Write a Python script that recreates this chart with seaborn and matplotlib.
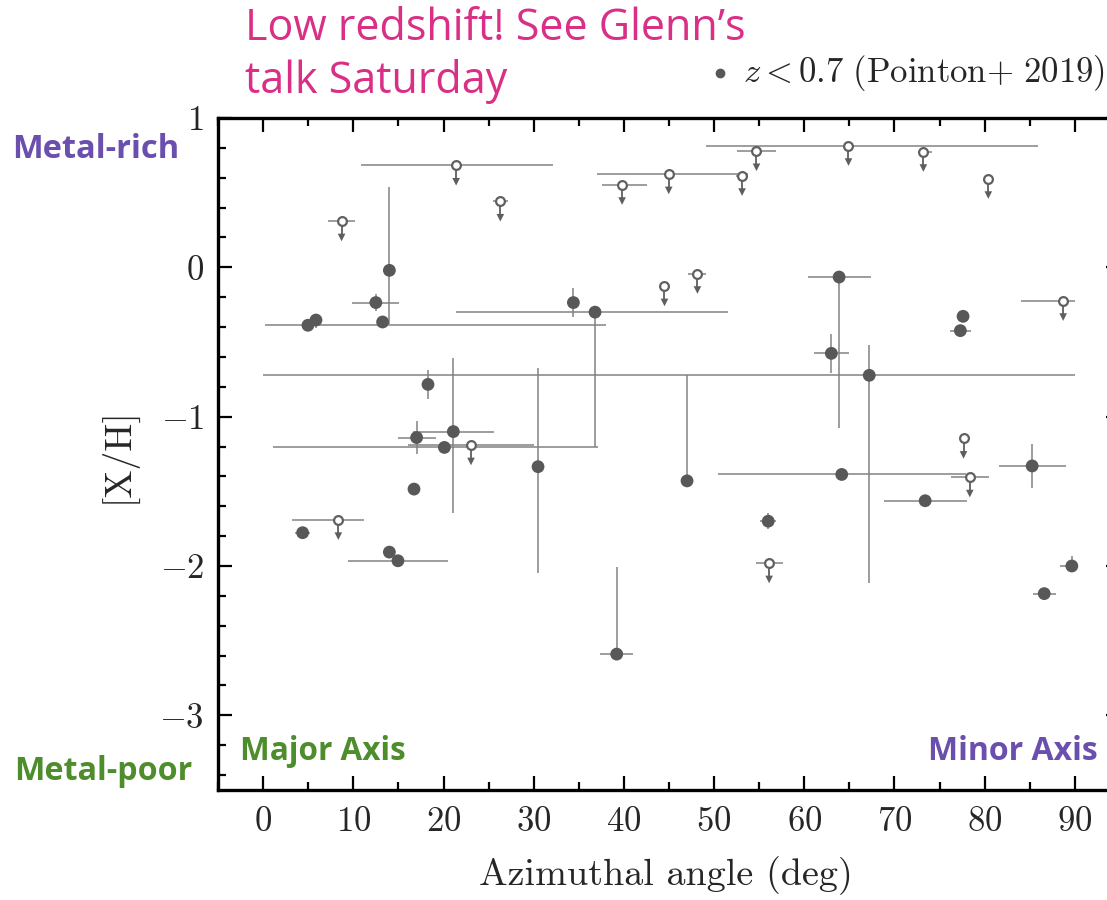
import numpy as np
import pandas as pd
import matplotlib
matplotlib.use("Agg")
import matplotlib.pyplot as plt
import seaborn as sns
from matplotlib.ticker import MultipleLocator
from matplotlib.lines import Line2D

# ---------------- data ----------------
# detections (filled)
det_az = [14.0, 12.5, 13.25, 4.97, 5.86, 18.28, 21.09, 17.02, 20.1, 36.8,
          34.4, 30.48, 47.0, 39.2, 56.0, 64.15, 73.4, 85.26, 89.66, 86.6,
          63.86, 63.0, 67.2, 77.6, 77.3, 4.38, 16.73, 14.0, 14.95]
det_met = [-0.02, -0.236, -0.366, -0.388, -0.353, -0.784, -1.10, -1.14, -1.206, -0.30,
           -0.236, -1.335, -1.43, -2.59, -1.70, -1.387, -1.563, -1.33, -2.0, -2.185,
           -0.065, -0.576, -0.723, -0.328, -0.424, -1.777, -1.485, -1.907, -1.965]
det_xlo = [0, 2.6, 0, 4.8, 0, 0, 4.5, 2.1, 19.0, 15.4,
           0, 0, 0, 1.8, 0.9, 13.75, 4.6, 3.7, 1.3, 1.3,
           3.5, 1.95, 67.2, 0, 1.2, 0.83, 0, 0, 5.5]
det_xhi = [0, 2.6, 0, 33.0, 0, 0, 4.5, 2.1, 17.0, 14.7,
           0, 0, 0, 1.8, 0.9, 13.75, 4.6, 3.7, 0, 1.3,
           3.5, 1.95, 22.8, 0, 1.2, 0.83, 0, 0, 5.5]
det_ylo = [0.36, 0.055, 0, 0, 0.05, 0.095, 0.545, 0.11, 0, 0.9,
           0.095, 0.71, 0, 0, 0.055, 0, 0, 0.15, 0, 0,
           1.01, 0.13, 1.39, 0, 0, 0, 0, 0, 0]
det_yhi = [0.56, 0.055, 0, 0, 0, 0.095, 0.49, 0.11, 0, 0,
           0.095, 0.66, 0.71, 0.58, 0.055, 0, 0, 0.15, 0.07, 0,
           0, 0.13, 0.2, 0.04, 0, 0, 0, 0, 0]

# upper limits (open)
lim_az = [8.7, 21.4, 26.3, 23.05, 8.34, 39.8, 44.97, 53.1, 54.7, 64.9,
          73.2, 80.4, 44.5, 48.15, 56.1, 78.35, 77.65, 88.7]
lim_met = [0.31, 0.683, 0.442, -1.19, -1.69, 0.554, 0.625, 0.614, 0.78, 0.815,
           0.775, 0.594, -0.125, -0.042, -1.98, -1.405, -1.146, -0.223]
lim_xlo = [1.45, 10.6, 0.85, 7.0, 5.1, 2.2, 8.0, 0.7, 2.2, 15.75,
           0, 0, 0, 1.0, 1.5, 2.1, 0, 4.7]
lim_xhi = [1.45, 10.7, 0.85, 7.0, 2.9, 2.8, 8.8, 0.7, 2.2, 21.0,
           1.0, 0, 0, 1.0, 1.5, 2.1, 0, 1.3]
arrow_len = 0.11

x_ticks = [0, 10, 20, 30, 40, 50, 60, 70, 80, 90]
y_ticks = [-3, -2, -1, 0, 1]

# ---------------- style ----------------
sns.set_style("ticks")
plt.rcParams["mathtext.fontset"] = "cm"
plt.rcParams["font.family"] = ["cmr10", "DejaVu Serif"]
plt.rcParams["axes.formatter.use_mathtext"] = True
plt.rcParams["axes.unicode_minus"] = True

W, H = 1107, 900
fig = plt.figure(figsize=(W / 100, H / 100), dpi=100)
ax = fig.add_axes([218 / W, 110 / H, 902 / W, 672 / H])

err_col = "#828282"
dot_col = "#585858"
arr_col = "#5e5e5e"

det = pd.DataFrame({"az": det_az, "met": det_met})
lim = pd.DataFrame({"az": lim_az, "met": lim_met})
lim["tip"] = lim["met"] - arrow_len

ax.errorbar(det["az"], det["met"],
            xerr=[det_xlo, det_xhi], yerr=[det_ylo, det_yhi],
            fmt="none", ecolor=err_col, elinewidth=1.1, capsize=0, zorder=1)
ax.errorbar(lim["az"], lim["met"], xerr=[lim_xlo, lim_xhi],
            fmt="none", ecolor=err_col, elinewidth=1.1, capsize=0, zorder=1)
# upper-limit arrows
ax.vlines(lim["az"], lim["tip"], lim["met"], color=arr_col, linewidth=1.3, zorder=2)
sns.scatterplot(data=lim, x="az", y="tip", ax=ax, marker="v", color=arr_col,
                s=30, edgecolor="none", zorder=2, legend=False)

sns.scatterplot(data=det, x="az", y="met", ax=ax, color=dot_col, s=85,
                edgecolor="none", zorder=4, legend=False)
sns.scatterplot(data=lim, x="az", y="met", ax=ax, color="white", s=40,
                edgecolor="#606060", linewidth=1.6, zorder=4, legend=False)

ax.set_xlim(-5, 95)
ax.set_ylim(-3.5, 1.0)
ax.set_xticks(x_ticks)
ax.set_yticks(y_ticks)
ax.xaxis.set_minor_locator(MultipleLocator(5))
ax.yaxis.set_minor_locator(MultipleLocator(0.2))
ax.tick_params(which="both", direction="in", top=True, right=True,
               labelsize=25, width=1.6, color="black")
ax.tick_params(which="major", length=10)
ax.tick_params(which="minor", length=6)
ax.tick_params(axis="x", pad=12)
ax.tick_params(axis="y", pad=10)
for s in ax.spines.values():
    s.set_linewidth(2.4)
    s.set_color("black")
ax.set_xlabel("")
ax.set_ylabel("")

fig.text(666 / W, 1 - 876 / H, "Azimuthal angle (deg)", fontsize=27.5,
         ha="center", va="center")
fig.text(118 / W, 1 - 455 / H, "[X/H]", fontsize=27, rotation=90,
         ha="center", va="center")

# legend-like entry above axes
fig.text(1105 / W, 1 - 73 / H, r"$z < 0.7\ \mathrm{(Pointon{+}\ 2019)}$",
         fontsize=25, ha="right", va="center")
fig.lines.append(Line2D([720 / W], [1 - 73 / H], marker="o", color=dot_col,
                        markersize=6, transform=fig.transFigure))

sans = ["Open Sans", "DejaVu Sans"]
pink = "#d92f86"
purple = "#6a4fae"
green = "#4e8d2c"
fig.text(245 / W, 1 - 29 / H, "Low redshift! See Glenn\u2019s",
         fontsize=31, color=pink, family=sans, ha="left", va="center")
fig.text(245 / W, 1 - 82 / H, "talk Saturday",
         fontsize=31, color=pink, family=sans, ha="left", va="center")
fig.text(12 / W, 1 - 150 / H, "Metal-rich", fontsize=23.5, color=purple,
         family=sans, weight="bold", ha="left", va="center")
fig.text(14 / W, 1 - 772 / H, "Metal-poor", fontsize=23.2, color=green,
         family=sans, weight="bold", ha="left", va="center")
fig.text(240 / W, 1 - 751 / H, "Major Axis", fontsize=22.7, color=green,
         family=sans, weight="bold", ha="left", va="center")
fig.text(1098 / W, 1 - 751 / H, "Minor Axis", fontsize=23, color=purple,
         family=sans, weight="bold", ha="right", va="center")

fig.savefig("out.png", dpi=100)
